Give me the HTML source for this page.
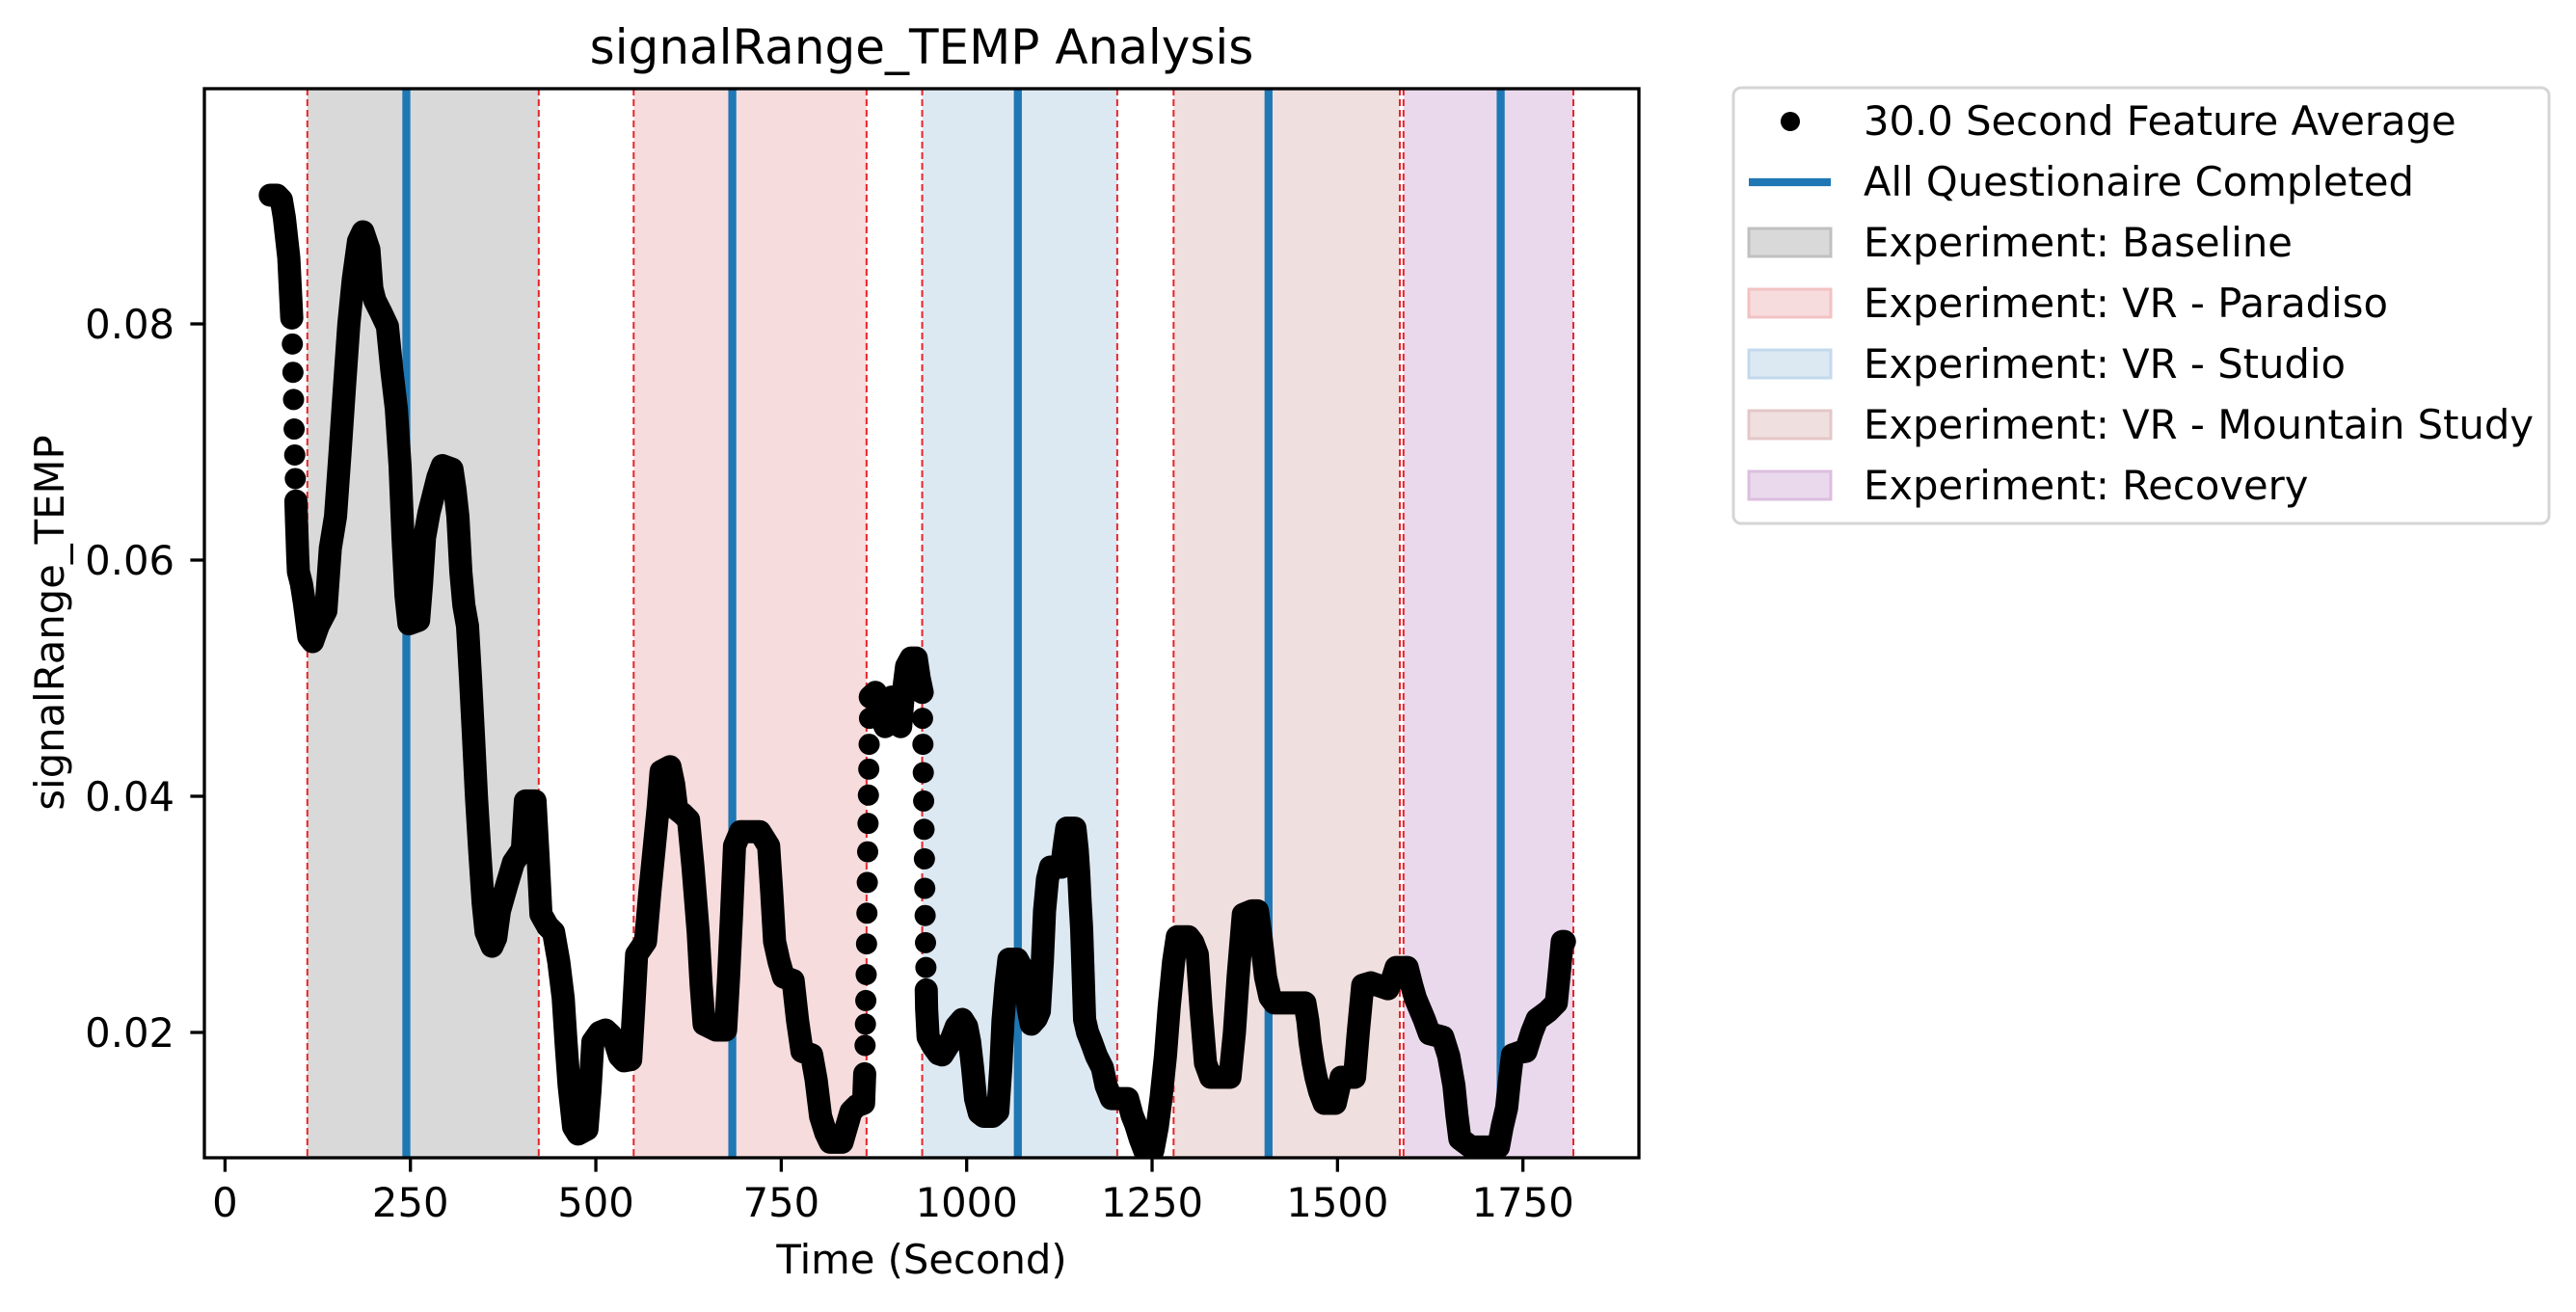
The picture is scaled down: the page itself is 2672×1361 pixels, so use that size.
<!DOCTYPE html>
<html><head><meta charset="utf-8"><style>
html,body{margin:0;padding:0;background:#fff;}
svg{display:block;}
text{font-family:"DejaVu Sans","Liberation Sans",sans-serif;fill:#000;}
</style></head><body>
<svg id="chart" xmlns="http://www.w3.org/2000/svg" width="2672" height="1361" viewBox="0 0 2672 1361">
<defs><clipPath id="plotclip"><rect x="212" y="92" width="1488" height="1109"/></clipPath></defs>
<rect x="0" y="0" width="2672" height="1361" fill="#fff"/>
<g id="spans" clip-path="url(#plotclip)"></g>
<g id="vlines" clip-path="url(#plotclip)"></g>
<g id="series" clip-path="url(#plotclip)"></g>
<rect x="212" y="92" width="1488" height="1109" fill="none" stroke="#000" stroke-width="3.3"/>
<g id="xticks"></g>
<g id="yticks"></g>
<text x="956" y="66" font-size="50" text-anchor="middle">signalRange_TEMP Analysis</text>
<text x="956" y="1321" font-size="41.7" text-anchor="middle">Time (Second)</text>
<text x="0" y="0" font-size="41.7" text-anchor="middle" transform="translate(66,646) rotate(-90)">signalRange_TEMP</text>
<g id="legend">
  <rect x="1798" y="91" width="846" height="452" rx="8" fill="#fff" stroke="#d5d5d5" stroke-width="3"/>
  <circle cx="1857" cy="126" r="10" fill="#000"/>
  <text x="1933" y="140" font-size="41.7">30.0 Second Feature Average</text>
  <line x1="1814" y1="189" x2="1899" y2="189" stroke="#1f77b4" stroke-width="8.3"/>
  <text x="1933" y="203" font-size="41.7">All Questionaire Completed</text>
  <rect x="1814" y="237" width="85" height="29" fill="#d9d9d9" stroke="#c0c0c0" stroke-width="3"/>
  <text x="1933" y="266" font-size="41.7">Experiment: Baseline</text>
  <rect x="1814" y="300" width="85" height="29" fill="#f7dcdd" stroke="#f2c2c3" stroke-width="3"/>
  <text x="1933" y="329" font-size="41.7">Experiment: VR - Paradiso</text>
  <rect x="1814" y="363" width="85" height="29" fill="#dce9f3" stroke="#c3d9ec" stroke-width="3"/>
  <text x="1933" y="392" font-size="41.7">Experiment: VR - Studio</text>
  <rect x="1814" y="426" width="85" height="29" fill="#f0dfdf" stroke="#e4c7c8" stroke-width="3"/>
  <text x="1933" y="455" font-size="41.7">Experiment: VR - Mountain Study</text>
  <rect x="1814" y="489" width="85" height="29" fill="#ead9ec" stroke="#dcbedf" stroke-width="3"/>
  <text x="1933" y="518" font-size="41.7">Experiment: Recovery</text>
</g>
</svg>
<script>
const spanNames = ["baseline","paradiso","studio","mountain","recovery"];
const spanStarts = [111, 551, 940, 1279, 1589];
const spanEnds = [423, 865, 1203, 1584, 1818];
const spanFills = ["#d9d9d9","#f7dcdd","#dce9f3","#f0dfdf","#ead9ec"];
const questionnaireTimes = [244.5, 684, 1069, 1407, 1720];
const xTickValues = [0,250,500,750,1000,1250,1500,1750];
const yTickValues = [0.02,0.04,0.06,0.08];
const yTickLabels = ["0.02","0.04","0.06","0.08"];
const times = [61,70,76,80,86,90,90.8,91.6,92.4,93.2,94,94.8,95.6,96.4,97.2,98,99,103,107,113,118,126,136,142,149,155,161,167,173,180,186,194,198,202,210,219,225,231,236,240,244,248,261,265,269,275,281,287,293,306,310,314,318,322,327,331,335,339,343,348,352,360,365,370,380,389,401,405,418,422,426,435,443,450,456,460,464,470,476,488,492,496,505,513,520,526,532,538,547,551,555,567,573,579,584,588,600,605,609,617,625,631,638,642,646,662,675,679,683,687,695,721,733,737,741,747,753,766,772,778,791,797,803,810,816,832,838,844,852,861,862.5,863,863.5,864,864.5,865,865.5,866,866.5,867,867.5,868,868.5,869,870,877,883,890,895,899,905,911,915,919,925,932,936,940,940.5,941,941.5,942,942.5,943,943.5,944,944.5,945,945.5,946,948,955,962,967,972,978,986,994,1000,1004,1008,1012,1017,1023,1035,1042,1046,1049,1053,1057,1068,1074,1079,1083,1087,1094,1098,1102,1105,1109,1113,1128,1132,1135,1146,1149,1151,1153,1155,1157,1159,1163,1168,1175,1183,1188,1195,1217,1223,1228,1234,1240,1251,1257,1262,1268,1273,1279,1284,1299,1305,1311,1316,1322,1329,1355,1361,1366,1373,1385,1392,1397,1403,1409,1415,1456,1460,1463,1467,1471,1476,1482,1497,1505,1523,1528,1534,1545,1568,1574,1579,1594,1600,1605,1611,1617,1624,1642,1650,1657,1661,1665,1680,1717,1722,1728,1732,1736,1745,1754,1762,1769,1784,1795,1799,1803,1806];
const values = [0.0909,0.0909,0.0905,0.089,0.0856,0.0805,0.0783,0.0759,0.0736,0.0711,0.0689,0.0669,0.065,0.0633,0.0619,0.0604,0.059,0.058,0.0564,0.0535,0.0531,0.0545,0.0557,0.061,0.0637,0.069,0.0746,0.080,0.0838,0.0870,0.0878,0.0863,0.083,0.082,0.081,0.0798,0.076,0.0728,0.068,0.0619,0.057,0.0546,0.0549,0.058,0.0619,0.064,0.0655,0.067,0.068,0.0677,0.066,0.0637,0.059,0.0562,0.0544,0.050,0.0451,0.040,0.0358,0.031,0.0285,0.0273,0.028,0.0303,0.0325,0.0344,0.0355,0.0396,0.0396,0.035,0.030,0.029,0.0285,0.026,0.0229,0.019,0.0155,0.012,0.0114,0.0118,0.015,0.0192,0.020,0.0202,0.0198,0.0192,0.018,0.0176,0.0177,0.022,0.0266,0.0277,0.032,0.0358,0.039,0.0421,0.0425,0.041,0.0389,0.0385,0.038,0.034,0.0285,0.024,0.0207,0.0202,0.0202,0.0247,0.030,0.0358,0.037,0.037,0.0358,0.032,0.0277,0.026,0.0247,0.0244,0.021,0.0184,0.0181,0.016,0.0129,0.0115,0.0107,0.0107,0.012,0.0133,0.0138,0.014,0.0165,0.0189,0.0207,0.0227,0.0249,0.0275,0.0301,0.0327,0.0353,0.0377,0.0401,0.0423,0.0444,0.0466,0.0484,0.0488,0.047,0.0459,0.047,0.0484,0.047,0.0459,0.049,0.051,0.0517,0.0517,0.050,0.0488,0.0466,0.0444,0.042,0.0396,0.0372,0.0347,0.0322,0.0299,0.0276,0.0255,0.0236,0.022,0.0196,0.0188,0.0182,0.0181,0.0186,0.0192,0.0205,0.0211,0.0205,0.0192,0.017,0.0144,0.0132,0.0129,0.0129,0.0133,0.017,0.021,0.024,0.0262,0.0262,0.0255,0.0247,0.022,0.0207,0.0212,0.0218,0.026,0.0303,0.033,0.034,0.034,0.036,0.0373,0.0373,0.0355,0.0336,0.031,0.0288,0.025,0.0211,0.020,0.0192,0.018,0.017,0.0155,0.0144,0.0144,0.013,0.0122,0.011,0.0100,0.0100,0.012,0.0144,0.018,0.0221,0.026,0.0281,0.0281,0.0276,0.0266,0.022,0.0174,0.0162,0.0162,0.020,0.0247,0.030,0.0303,0.0303,0.028,0.0247,0.023,0.0225,0.0225,0.021,0.0192,0.0175,0.0162,0.015,0.014,0.014,0.0162,0.0162,0.020,0.024,0.0242,0.0237,0.0245,0.0255,0.0255,0.024,0.0229,0.022,0.0211,0.0199,0.0196,0.018,0.0155,0.013,0.011,0.0103,0.0103,0.012,0.0136,0.016,0.0181,0.0183,0.0184,0.020,0.0211,0.0218,0.0225,0.025,0.0277,0.0277];

const NS = "http://www.w3.org/2000/svg";
const X0 = 233.4, XS = 0.7693, PT = 92, PB = 1201;
function xPos(t){ return X0 + XS * t; }
function yPos(v){ return 336 - (v - 0.08) * 12250; }
function mk(tag, attrs, parent){ const e = document.createElementNS(NS, tag); for (const k in attrs) e.setAttribute(k, attrs[k]); parent.appendChild(e); return e; }

const gS = document.getElementById('spans');
spanStarts.forEach((s, i) => {
  const r = mk('rect', {x: xPos(s), y: PT, width: xPos(spanEnds[i]) - xPos(s), height: PB - PT, fill: spanFills[i]}, gS);
  
  
  [s, spanEnds[i]].forEach(t => {
    const l = mk('line', {x1: xPos(t), x2: xPos(t), y1: PT, y2: PB, stroke: '#e8242a', 'stroke-width': 2, 'stroke-dasharray': '7,4'}, gS);
    
    
  });
});
const gV = document.getElementById('vlines');
questionnaireTimes.forEach((t, i) => {
  const l = mk('line', {x1: xPos(t), x2: xPos(t), y1: PT, y2: PB, stroke: '#1f77b4', 'stroke-width': 8.3}, gV);
  
  
});
const gD = document.getElementById('series');
let seg = [];
const segs = [];
for (let i = 0; i < times.length; i++) {
  const p = [xPos(times[i]), yPos(values[i])];
  if (i > 0) {
    const dt = times[i] - times[i-1];
    const q = [xPos(times[i-1]), yPos(values[i-1])];
    const d = Math.hypot(p[0]-q[0], p[1]-q[1]);
    if (dt < 1.5 && d > 22) { segs.push(seg); seg = []; }
  }
  seg.push(p);
}
segs.push(seg);
segs.forEach(sg => {
  if (sg.length > 1) {
    const pl = mk('polyline', {points: sg.map(p => p.join(',')).join(' '), fill: 'none', stroke: '#000', 'stroke-width': 24, 'stroke-linejoin': 'round', 'stroke-linecap': 'round'}, gD);
    
    
  }
});
for (let i = 0; i < times.length; i++) {
  const c = mk('circle', {cx: xPos(times[i]), cy: yPos(values[i]), r: 11, fill: '#000'}, gD);
  
  
}
const gX = document.getElementById('xticks');
xTickValues.forEach(v => {
  const x = xPos(v);
  const l = mk('line', {x1: x, x2: x, y1: PB, y2: PB + 14.6, stroke: '#000', 'stroke-width': 3.3}, gX);
  
  
  const t = mk('text', {x: x, y: 1262, 'font-size': 41.7, 'text-anchor': 'middle'}, gX);
  t.textContent = String(v);
  
  
});
const gY = document.getElementById('yticks');
yTickValues.forEach((v, i) => {
  const y = yPos(v);
  const l = mk('line', {x1: 212 - 14.6, x2: 212, y1: y, y2: y, stroke: '#000', 'stroke-width': 3.3}, gY);
  
  
  const t = mk('text', {x: 181, y: y + 15, 'font-size': 41.7, 'text-anchor': 'end'}, gY);
  t.textContent = yTickLabels[i];
  
  
});
</script>
</body></html>
